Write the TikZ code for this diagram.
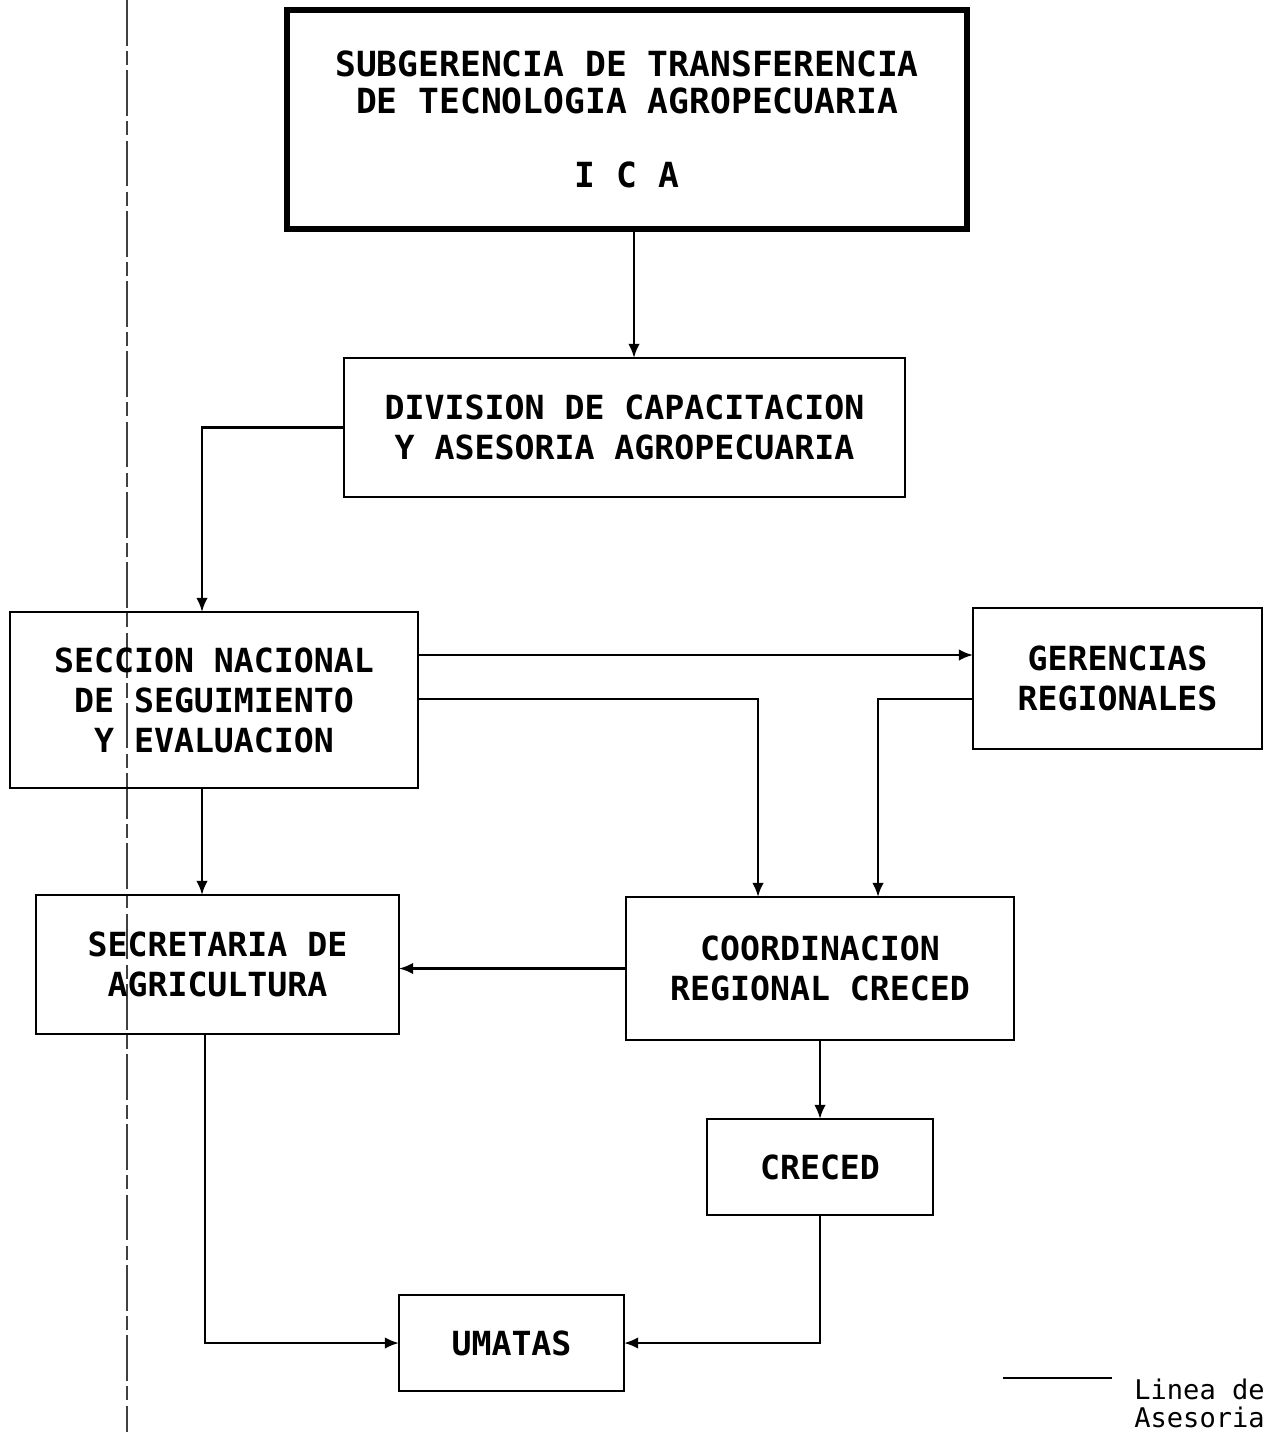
\documentclass[tikz,border=0pt]{standalone}
\usepackage{fontspec}
\setmonofont{DejaVu Sans Mono}
\usetikzlibrary{arrows.meta}
\begin{document}
\begin{tikzpicture}[x=0.02cm,y=-0.02cm,
  box/.style={draw, line width=1.5pt, inner sep=0pt, outer sep=0pt, align=center,
    font=\ttfamily\bfseries\fontsize{18.9}{22.8}\selectfont},
  topbox/.style={box, line width=3.2pt, font=\ttfamily\bfseries\fontsize{19.7}{21}\selectfont},
  conn/.style={line width=1.4pt},
  arr/.style={conn, -{Latex[length=8pt,width=6.5pt]}},
  legend/.style={font=\ttfamily\fontsize{15.4}{16}\selectfont, align=left, inner sep=0pt}]
\useasboundingbox (0,0) rectangle (1268,1432);
\fill[white] (0,0) rectangle (1268,1432);

% fold line of the scan
\coordinate (foldtop) at (127,0);
\coordinate (foldbot) at (127,1432);
\draw[black!75, line width=0.6pt, dash pattern=on 26pt off 3pt on 8pt off 3pt] (foldtop) -- (foldbot);

\node[topbox, minimum width=13.6cm, minimum height=4.38cm] (top) at (627,119.5)
  {SUBGERENCIA DE TRANSFERENCIA\\DE TECNOLOGIA AGROPECUARIA\\[21pt]I C A};
\node[box, minimum width=11.22cm, minimum height=2.78cm] (div) at (624.5,427.5)
  {DIVISION DE CAPACITACION\\Y ASESORIA AGROPECUARIA};
\node[box, minimum width=8.16cm, minimum height=3.52cm] (secc) at (214,700)
  {SECCION NACIONAL\\DE SEGUIMIENTO\\Y EVALUACION};
\node[box, minimum width=5.78cm, minimum height=2.82cm] (ger) at (1117.5,678.5)
  {GERENCIAS\\REGIONALES};
\node[box, minimum width=7.26cm, minimum height=2.78cm] (secr) at (217.5,964.5)
  {SECRETARIA DE\\AGRICULTURA};
\node[box, minimum width=7.76cm, minimum height=2.86cm] (coord) at (820,968.5)
  {COORDINACION\\REGIONAL CRECED};
\node[box, minimum width=4.52cm, minimum height=1.92cm] (creced) at (820,1167)
  {CRECED};
\node[box, minimum width=4.5cm, minimum height=1.92cm] (umatas) at (511.5,1343)
  {UMATAS};

\coordinate (xa) at (634,0);
\coordinate (xb) at (202,0);
\coordinate (xc) at (758,0);
\coordinate (xd) at (878,0);
\coordinate (xe) at (205,0);
\coordinate (yg) at (0,655);
\coordinate (yc) at (0,699);

\draw[arr] (xa |- top.south) -- (xa |- div.north);
\draw[arr] (div.west) -| (xb |- secc.north);
\draw[arr] (secc.east |- yg) -- (ger.west |- yg);
\draw[arr] (secc.east |- yc) -| (xc |- coord.north);
\draw[arr] (ger.west |- yc) -| (xd |- coord.north);
\draw[arr] (xb |- secc.south) -- (xb |- secr.north);
\draw[arr] (coord.west) -- (secr.east |- coord.west);
\draw[arr] (coord.south) -- (creced.north);
\draw[arr] (xe |- secr.south) |- (umatas.west);
\draw[arr] (creced.south) |- (umatas.east);

% legend
\coordinate (lega) at (1003,1378);
\coordinate (legb) at (1112,1378);
\draw[conn] (lega) -- (legb);
\node[legend, anchor=west] (legt) at (1134,1403) {Linea de\\Asesoria};
\end{tikzpicture}
\end{document}
